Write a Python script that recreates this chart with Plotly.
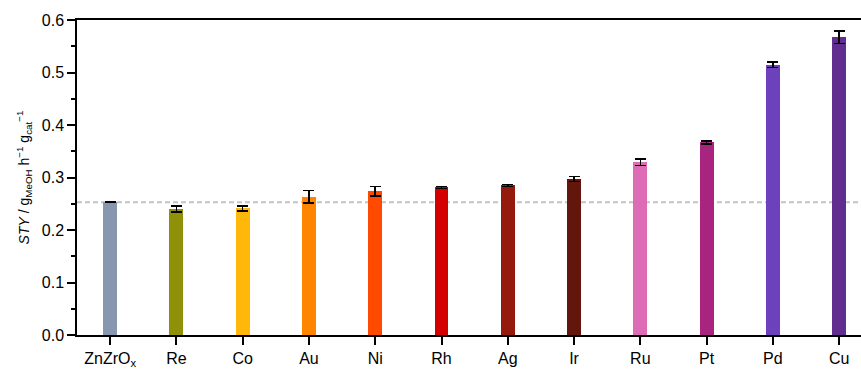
import plotly.graph_objects as go

# Space-time yield of methanol for promoted ZnZrOx catalysts
categories = ["ZnZrO<sub>x</sub>", "Re", "Co", "Au", "Ni", "Rh", "Ag", "Ir", "Ru", "Pt", "Pd", "Cu"]
sty = [0.253, 0.240, 0.241, 0.263, 0.274, 0.281, 0.285, 0.297, 0.329, 0.367, 0.515, 0.567]
sty_err = [0.001, 0.006, 0.005, 0.012, 0.009, 0.002, 0.002, 0.005, 0.006, 0.003, 0.005, 0.012]
bar_colors = ["#8797b0", "#8f9208", "#ffb70a", "#ff8400", "#ff4a00", "#d40000",
              "#941a0e", "#63160b", "#dd6bb5", "#a8247f", "#6d41bc", "#612d8e"]
baseline = sty[0]

fig = go.Figure()
fig.add_trace(go.Bar(
    x=categories, y=sty, width=0.21,
    marker=dict(color=bar_colors, line=dict(width=0)),
    error_y=dict(type="data", array=sty_err, visible=True,
                 color="black", thickness=1.5, width=5.5),
))

# reference level of the unpromoted oxide
fig.add_shape(type="line", xref="paper", yref="y", x0=0, x1=1, y0=baseline, y1=baseline,
              line=dict(color="#c4c4c4", width=2, dash="5px,3px"), layer="below")

font_family = "Liberation Sans, Arial, sans-serif"
fig.update_layout(
    width=861, height=369,
    margin=dict(l=77, r=0, t=20, b=32),
    plot_bgcolor="white", paper_bgcolor="white",
    showlegend=False,
    font=dict(family=font_family, size=15, color="black"),
    bargap=0,
)
fig.update_xaxes(
    type="category", range=[-0.5, 11.33],
    showline=True, linecolor="black", linewidth=1.5, mirror=True,
    ticks="outside", ticklen=8, tickwidth=1.5, tickcolor="black",
    showgrid=False, tickfont=dict(size=16),
)
fig.update_yaxes(
    range=[0, 0.6], dtick=0.1, tickformat=".1f",
    showline=True, linecolor="black", linewidth=1.5,
    ticks="outside", ticklen=8, tickwidth=1.5, tickcolor="black",
    minor=dict(dtick=0.05, ticks="outside", ticklen=4, tickwidth=1.5, tickcolor="black"),
    showgrid=False, zeroline=False, tickfont=dict(size=16),
    title=dict(text="<i>STY</i> / g<sub>MeOH</sub> h<sup>−1</sup> g<sub>cat</sub><sup>−1</sup>",
               font=dict(size=14), standoff=9),
)

fig.write_html("out.html")
